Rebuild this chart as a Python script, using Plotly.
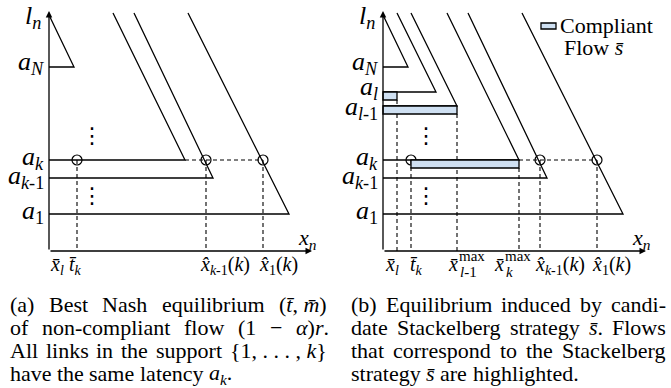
import re
import unicodedata
import plotly.graph_objects as go

# ---------------- data ----------------
link_names    = ["1", "k-1", "k", "l-1", "l", "N"]
link_latency  = [37, 73, 91, 145, 159, 184]      # constant latency level a_i
link_corner_x = [240, 164, 136, 74, 53, 25]      # flow where the sloped part starts
link_top_x    = [139, 85, 64, 28, 14, 0]         # flow at the top of the sketch
link_top_y    = [238, 238, 238, 238, 238, 236]

left_links  = ["1", "k-1", "k", "N"]
right_links = ["1", "k-1", "k", "l-1", "l", "N"]

level_label = {
    "1":   "<i>a</i><sub>1</sub>",
    "k-1": "<i>a</i><sub><i>k</i>-1</sub>",
    "k":   "<i>a</i><sub><i>k</i></sub>",
    "l-1": "<i>a</i><sub><i>l</i>-1</sub>",
    "l":   "<i>a</i><sub><i>l</i></sub>",
    "N":   "<i>a</i><sub><i>N</i></sub>",
}
level_label_dy = {"1": 2, "k-1": 1, "k": 2, "l-1": -2, "l": 4, "N": 4}

eq_link = "k"
eq_points_x = [28, 157, 214]          # t_k, x^_{k-1}(k), x^_1(k)

bar_links = ["l", "l-1", "k"]         # compliant flow s-bar
bar_start = [0, 0, 28]
bar_end   = [14, 74, 136]

x_axis_end = 263
y_axis_end = 240

# tick labels: (html, left-x in data units)
left_ticks = [("<i>x̄</i><sub><i>l</i></sub>", -1),
              ("<i>t̄</i><sub><i>k</i></sub>", 18),
              ("<i>x̂</i><sub><i>k</i>-1</sub>(<i>k</i>)", 149),
              ("<i>x̂</i><sub>1</sub>(<i>k</i>)", 208)]
right_ticks = [("<i>x̄</i><sub><i>l</i></sub>", 0),
               ("<i>t̄</i><sub><i>k</i></sub>", 25),
               ("<i>x̂</i><sub><i>k</i>-1</sub>(<i>k</i>)", 150),
               ("<i>x̂</i><sub>1</sub>(<i>k</i>)", 207)]
max_ticks = [("<i>x̄</i>", 63, "<i>l</i>-1"), ("<i>x̄</i>", 109, "<i>k</i>")]

caption_left = [
    ["(a)", "Best", "Nash", "equilibrium", "(<i>t̄</i>, <i>m̄</i>)"],
    ["of", "non-compliant", "flow", "(1", "−", "<i>α</i>)<i>r</i>."],
    ["All", "links", "in", "the", "support", "{1, . . . , <i>k</i>}"],
    ["have", "the", "same", "latency", "<i>a</i><sub><i>k</i></sub>."],
]
caption_right = [
    ["(b)", "Equilibrium", "induced", "by", "candi-"],
    ["date", "Stackelberg", "strategy", "<i>s̄</i>.", "Flows"],
    ["that", "correspond", "to", "the", "Stackelberg"],
    ["strategy", "<i>s̄</i>", "are", "highlighted."],
]

# ---------------- styles ----------------
W_PX, H_PX = 671, 388
FONT = "Liberation Serif"
BAR_H = 8
LINE_W = 1.3
DASH = "4px,3px"
BAR_FILL = "#cfe0f2"
CAP_SIZE = 22
TICK_SIZE = 20

lat = dict(zip(link_names, link_latency))
cx = dict(zip(link_names, link_corner_x))
tx = dict(zip(link_names, link_top_x))
ty = dict(zip(link_names, link_top_y))

fig = go.Figure()
ann = []
shapes = []


def axes_for(panel):
    return ("x", "y") if panel == 0 else ("x2", "y2")


for panel, links in enumerate([left_links, right_links]):
    xa, ya = axes_for(panel)
    # links: sloped part + constant part
    for n in links:
        fig.add_trace(go.Scatter(
            x=[tx[n], cx[n], 0], y=[ty[n], lat[n], lat[n]],
            mode="lines", line=dict(color="black", width=LINE_W),
            xaxis=xa, yaxis=ya, hoverinfo="skip"))
        ann.append(dict(x=-3, y=lat[n] + level_label_dy[n], xref=xa, yref=ya,
                        text=level_label[n], showarrow=False, xanchor="right",
                        yanchor="middle", font=dict(family=FONT, size=26, color="black")))
    a_eq = lat[eq_link]
    # dashed horizontal at a_k
    fig.add_trace(go.Scatter(
        x=[cx[eq_link], eq_points_x[-1]], y=[a_eq, a_eq], mode="lines",
        line=dict(color="black", width=1.1, dash=DASH), xaxis=xa, yaxis=ya, hoverinfo="skip"))
    # dashed verticals from equilibrium points
    vx = list(eq_points_x)
    vtop = [a_eq] * len(eq_points_x)
    if panel == 1:
        for b, x1 in zip(bar_links, bar_end):
            if x1 not in vx:
                vx.append(x1)
                vtop.append(lat[b] - BAR_H)
    for x, top in zip(vx, vtop):
        fig.add_trace(go.Scatter(
            x=[x, x], y=[top, 0], mode="lines",
            line=dict(color="black", width=1.1, dash=DASH), xaxis=xa, yaxis=ya, hoverinfo="skip"))
    # circles
    fig.add_trace(go.Scatter(
        x=eq_points_x, y=[a_eq] * len(eq_points_x), mode="markers",
        marker=dict(symbol="circle-open", size=10, color="black", line=dict(width=1.2)),
        xaxis=xa, yaxis=ya, hoverinfo="skip"))
    # axes with arrows
    ann.append(dict(x=x_axis_end, y=0, ax=0, ay=0, xref=xa, yref=ya, axref=xa, ayref=ya,
                    text="", showarrow=True, arrowhead=2, arrowsize=1, arrowwidth=LINE_W,
                    arrowcolor="black", standoff=0, startstandoff=0))
    ann.append(dict(x=0, y=y_axis_end, ax=0, ay=0, xref=xa, yref=ya, axref=xa, ayref=ya,
                    text="", showarrow=True, arrowhead=2, arrowsize=1, arrowwidth=LINE_W,
                    arrowcolor="black", standoff=0, startstandoff=0))
    ann.append(dict(x=-16, y=234, xref=xa, yref=ya, text="<i>l</i><sub><i>n</i></sub>",
                    showarrow=False, font=dict(family=FONT, size=26, color="black")))
    ann.append(dict(x=258, y=12, xref=xa, yref=ya, text="<i>x</i><sub><i>n</i></sub>",
                    showarrow=False, font=dict(family=FONT, size=22, color="black")))
    # vertical ellipses
    for yy in (116, 56):
        ann.append(dict(x=43, y=yy, xref=xa, yref=ya, text="⋮", showarrow=False,
                        font=dict(family="DejaVu Sans", size=22, color="black")))
    # tick labels
    for txt, x0 in (left_ticks if panel == 0 else right_ticks):
        ann.append(dict(x=x0, y=-14, xref=xa, yref=ya, text=txt, showarrow=False,
                        xanchor="left", yanchor="middle",
                        font=dict(family=FONT, size=TICK_SIZE, color="black")))
    if panel == 1:
        for txt, x0, sub in max_ticks:
            ann.append(dict(x=x0, y=-13, xref=xa, yref=ya, text=txt, showarrow=False,
                            xanchor="left", yanchor="middle",
                            font=dict(family=FONT, size=TICK_SIZE, color="black")))
            ann.append(dict(x=x0 + 11, y=-5, xref=xa, yref=ya, text="max", showarrow=False,
                            xanchor="left", yanchor="middle",
                            font=dict(family=FONT, size=15, color="black")))
            ann.append(dict(x=x0 + 12, y=-21, xref=xa, yref=ya, text=sub, showarrow=False,
                            xanchor="left", yanchor="middle",
                            font=dict(family=FONT, size=15, color="black")))
        # compliant-flow bars
        for b, x0, x1 in zip(bar_links, bar_start, bar_end):
            shapes.append(dict(type="rect", xref=xa, yref=ya, x0=x0, x1=x1,
                               y0=lat[b] - BAR_H, y1=lat[b], fillcolor=BAR_FILL,
                               line=dict(color="black", width=LINE_W), layer="above"))
        # legend
        shapes.append(dict(type="rect", xref=xa, yref=ya, x0=158, x1=173, y0=222, y1=228,
                           fillcolor=BAR_FILL, line=dict(color="black", width=LINE_W)))
        ann.append(dict(x=175, y=226, xref=xa, yref=ya, text="Compliant", showarrow=False,
                        xanchor="left", yanchor="middle",
                        font=dict(family=FONT, size=22, color="black")))
        ann.append(dict(x=179, y=204, xref=xa, yref=ya, text="Flow <i>s̄</i>", showarrow=False,
                        xanchor="left", yanchor="middle",
                        font=dict(family=FONT, size=22, color="black")))

# ---------------- captions (justified) ----------------
CW = {' ': 250, '(': 333, ')': 333, ',': 250, '.': 250, '-': 333, '{': 480, '}': 480,
      '−': 564, 'α': 520, '1': 500,
      'a': 444, 'b': 500, 'c': 444, 'd': 500, 'e': 444, 'f': 333, 'g': 500, 'h': 500,
      'i': 278, 'j': 278, 'k': 500, 'l': 278, 'm': 778, 'n': 500, 'o': 500, 'p': 500,
      'q': 500, 'r': 333, 's': 389, 't': 278, 'u': 500, 'v': 500, 'w': 722, 'x': 500,
      'y': 500, 'z': 444, 'A': 722, 'B': 667, 'C': 667, 'E': 611, 'F': 556, 'N': 722,
      'S': 556}


def text_width(s, size):
    total, scale = 0.0, 1.0
    for tok in re.split(r'(<[^>]+>)', s):
        if tok.startswith('<'):
            scale = 0.7 if tok in ('<sub>', '<sup>') else (1.0 if tok in ('</sub>', '</sup>') else scale)
            continue
        for ch in tok:
            if unicodedata.combining(ch):
                continue
            total += CW.get(ch, 500) * scale
    return total / 1000 * size


def place_caption(lines, x_start, x_end, y_first, dy):
    for i, words in enumerate(lines):
        widths = [text_width(w, CAP_SIZE) for w in words]
        last = i == len(lines) - 1
        if last:
            gap = 0.25 * CAP_SIZE
        else:
            gap = (x_end - x_start - sum(widths)) / (len(words) - 1)
        x = x_start
        for w, wd in zip(words, widths):
            ann.append(dict(x=x / W_PX, y=1 - (y_first + i * dy) / H_PX, xref="paper", yref="paper",
                            text=w, showarrow=False, xanchor="left", yanchor="middle",
                            font=dict(family=FONT, size=CAP_SIZE, color="black")))
            x += wd + gap


place_caption(caption_left, 8, 326, 304, 23.3)
place_caption(caption_right, 349, 664, 304, 23.3)

fig.update_layout(
    width=W_PX, height=H_PX, margin=dict(l=0, r=0, t=0, b=0),
    paper_bgcolor="white", plot_bgcolor="white", showlegend=False,
    xaxis=dict(domain=[0, 330 / W_PX], range=[-49, 281], visible=False, fixedrange=True),
    yaxis=dict(domain=[0, 1], range=[-137, 251], visible=False, fixedrange=True),
    xaxis2=dict(domain=[340 / W_PX, 1], range=[-43, 288], visible=False, anchor="y2", fixedrange=True),
    yaxis2=dict(domain=[0, 1], range=[-137, 251], visible=False, anchor="x2", fixedrange=True),
    annotations=ann, shapes=shapes,
)

fig.write_html("out.html", config={"displayModeBar": False},
               post_script="document.body.style.margin='0px';document.body.style.overflow='hidden';")
